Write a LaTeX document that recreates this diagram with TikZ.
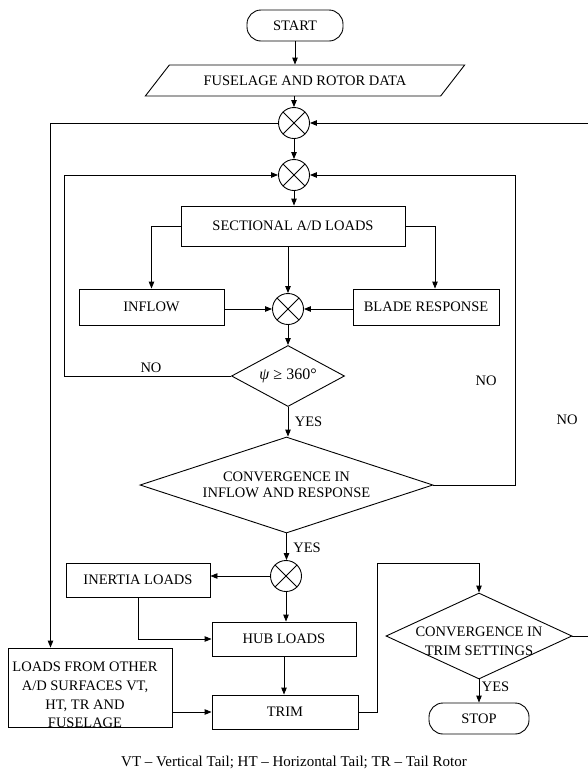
\documentclass[tikz,border=0pt]{standalone}
\usepackage{fontspec}
\setmainfont{Liberation Serif}
\usetikzlibrary{shapes.geometric,arrows.meta}
\begin{document}
\begin{tikzpicture}[x=1pt,y=-1pt,
  font=\fontsize{14.5}{18.7}\selectfont,
  line width=0.9pt,
  arr/.style={-{Triangle[length=7pt,width=5.5pt]}},
  box/.style={draw, rectangle, inner sep=0pt},
  term/.style={draw, rectangle, rounded corners=14pt, inner sep=0pt},
  xc/.style={draw, circle, minimum size=31pt, inner sep=0pt,
    path picture={\draw (path picture bounding box.north west) -- (path picture bounding box.south east)
                        (path picture bounding box.south west) -- (path picture bounding box.north east);}},
  dia/.style={draw, diamond, inner sep=0pt, align=center},
  lbl/.style={inner sep=0pt}
]
\useasboundingbox (0,0) rectangle (588,772);

% nodes
\node[term, minimum width=96pt, minimum height=31pt] (start) at (295,25.5) {START};
\node[draw, trapezium, trapezium left angle=28.5, trapezium right angle=151.5,
      trapezium stretches=true, minimum width=320pt, minimum height=31pt, inner sep=0pt]
      (data) at (305,80.5) {FUSELAGE AND ROTOR DATA};
\node[xc] (c1) at (294,123) {};
\node[xc] (c2) at (294,175) {};
\node[box, minimum width=224pt, minimum height=40pt] (sect) at (293,226) {SECTIONAL A/D LOADS};
\node[box, minimum width=145pt, minimum height=36pt] (inflow) at (151.5,307) {INFLOW};
\node[box, minimum width=146pt, minimum height=36pt] (blade) at (426,307) {BLADE RESPONSE};
\node[xc] (c3) at (288,309) {};
\node[dia, shape aspect=1.85, minimum width=113pt, minimum height=61pt, font=\fontsize{16}{18}\selectfont] (psi) at (288,376) {\textit{ψ} ≥ 360°};
\node[dia, shape aspect=3.05, minimum width=293pt, minimum height=96pt,
      font=\fontsize{14.5}{16}\selectfont] (conv) at (286.5,485) {CONVERGENCE IN\\INFLOW AND RESPONSE};
\node[xc] (c4) at (286,576) {};
\node[box, minimum width=144pt, minimum height=34pt] (inertia) at (138,580) {INERTIA LOADS};
\node[box, minimum width=144pt, minimum height=34pt] (hub) at (284,639) {HUB LOADS};
\node[box, minimum width=146pt, minimum height=34pt] (trim) at (285,712) {TRIM};
\node[box, minimum width=164pt, minimum height=79pt] (loads) at (90,687.5) {};
\node[align=center, inner sep=0pt] (loadstxt) at (85,695) {LOADS FROM OTHER\\A/D SURFACES VT,\\HT, TR AND\\FUSELAGE};
\node[dia, shape aspect=2.16, minimum width=186pt, minimum height=86pt] (tconv) at (479,636) {};
\node[align=center, inner sep=0pt] (tconvtxt) at (479,641.5) {CONVERGENCE IN\\TRIM SETTINGS};
\node[term, minimum width=100pt, minimum height=31pt] (stop) at (479,718.5) {STOP};

% labels
\node[lbl] (no1) at (151,368) {NO};
\node[lbl] (yes1) at (308.5,422) {YES};
\node[lbl] (no2) at (486,381) {NO};
\node[lbl] (no3) at (567,420) {NO};
\node[lbl] (yes2) at (307,548) {YES};
\node[lbl] (yes3) at (495.5,687) {YES};
\node[font=\fontsize{15}{18}\selectfont] (caption) at (294,762) {VT – Vertical Tail; HT – Horizontal Tail; TR – Tail Rotor};

% helper coordinates
\coordinate (lo) at (50.5,0);
\coordinate (li) at (64.5,0);
\coordinate (ri) at (515,0);
\coordinate (ro) at (589,0);
\coordinate (bx) at (435,0);
\coordinate (tx) at (377,563);

% connectors
\draw[arr] (start.south) -- (start.south |- data.north);
\draw[arr] (data.south -| c1) -- (c1.north);
\draw[arr] (c1.west) -| (lo |- loads.north);
\draw[arr] (tconv.east) -- (ro |- tconv.east) -- (ro |- c1) -- (c1.east);
\draw[arr] (c1.south) -- (c2.north);
\draw[arr] (c2.south) -- (c2.south |- sect.north);
\draw[arr] (sect.west) -| (inflow.north);
\draw[arr] (sect.east) -| (bx |- blade.north);
\draw[arr] (sect.south -| c3) -- (c3.north);
\draw[arr] (inflow.east |- c3.west) -- (c3.west);
\draw[arr] (blade.west |- c3.east) -- (c3.east);
\draw[arr] (c3.south) -- (psi.north);
\draw[arr] (psi.west) -- (li |- psi.west) -- (li |- c2) -- (c2.west);
\draw[arr] (psi.south) -- (psi.south |- conv.north);
\draw[arr] (conv.east) -- (ri |- conv.east) -- (ri |- c2) -- (c2.east);
\draw[arr] (conv.south) -- (conv.south |- c4.north);
\draw[arr] (c4.west) -- (c4.west -| inertia.east);
\draw[arr] (c4.south) -- (c4.south |- hub.north);
\draw[arr] (inertia.south) |- (hub.west);
\draw[arr] (hub.south) -- (hub.south |- trim.north);
\draw[arr] (loads.east |- trim.west) -- (trim.west);
\draw[arr] (trim.east) -| (tx) -| (tconv.north);
\draw[arr] (tconv.south) -- (stop.north);
\end{tikzpicture}
\end{document}
